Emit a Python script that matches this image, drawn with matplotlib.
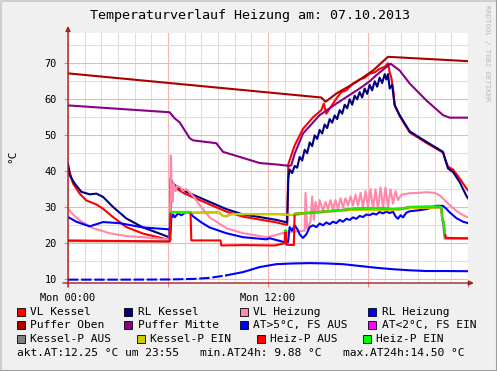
import matplotlib
matplotlib.use("Agg")
import matplotlib.pyplot as plt
import numpy as np
from matplotlib.patches import Rectangle
from matplotlib.ticker import MultipleLocator

plt.rcParams['font.family'] = 'DejaVu Sans Mono'

# Daten (Stunden seit 00:00, Temperatur in °C)
vl_kessel_h = [0, 0.3, 0.7, 1.1, 1.7, 2.1, 2.7, 3.5, 4.5, 5.5, 6.0, 6.1, 6.18, 6.3, 7.0, 7.5, 8.5, 9.5, 10.5, 11.5, 12.5, 13.15,
               13.22, 13.4, 13.6, 14.1, 14.7, 15.2, 15.35, 15.5, 16.1, 16.4, 16.7, 17.1, 17.5, 17.8, 18.1, 18.4, 18.7, 19.0, 19.2,
               19.3, 19.4, 19.5, 19.6, 19.9, 20.5, 21.5, 22.5, 22.7, 22.8, 23.1, 23.5, 23.9, 24]
vl_kessel_t = [41.5, 36.6, 33.8, 31.9, 30.8, 29.6, 27.3, 24.5, 22.7, 21.6, 21.0, 20.8, 37.0, 35.8, 33.8, 32.8, 30.8, 28.8, 27.4, 26.6, 25.8, 25.1,
               42.0, 44.5, 47.2, 51.8, 55.0, 57.0, 58.8, 56.0, 60.2, 62.0, 62.5, 64.4, 65.5, 66.0, 67.1, 67.5, 68.5, 69.0, 70.0,
               67.5, 66.0, 63.0, 58.5, 55.3, 50.8, 47.9, 45.2, 42.5, 41.3, 40.5, 38.0, 35.3, 34.7]

rl_kessel_h = [0, 0.1, 0.4, 0.8, 1.3, 1.7, 2.1, 2.7, 3.5, 4.5, 5.5, 6.0, 6.1, 6.15, 6.3, 7.0, 7.5, 8.5, 9.5, 10.5, 11.5, 12.5, 13.15,
               13.22, 13.3, 13.45, 13.6, 13.75, 13.9, 14.05, 14.2, 14.35, 14.5, 14.65, 14.8, 14.95, 15.1, 15.25, 15.4, 15.55, 15.7,
               15.85, 16.0, 16.15, 16.3, 16.45, 16.6, 16.75, 16.9, 17.05, 17.2, 17.35, 17.5, 17.65, 17.8, 17.95, 18.1, 18.25, 18.4,
               18.55, 18.7, 18.85, 19.0, 19.1, 19.2, 19.3, 19.45, 19.6, 19.9, 20.5, 21.5, 22.5, 22.65, 22.8, 23.1, 23.5, 23.9, 24]
rl_kessel_t = [42.1, 38.9, 36.6, 34.3, 33.6, 33.8, 32.9, 30.1, 26.9, 24.4, 22.7, 21.8, 21.6, 38.0, 36.5, 34.5, 33.5, 31.5, 29.5, 28.0, 27.3, 26.5, 25.8,
               38.0, 40.5, 39.5, 41.5, 41.0, 44.0, 43.0, 46.0, 45.0, 48.0, 47.0, 50.0, 49.0, 51.5, 50.5, 53.0, 52.0, 54.5,
               53.5, 55.5, 54.5, 57.0, 56.0, 58.5, 57.5, 60.0, 58.5, 61.0, 60.0, 62.0, 60.5, 63.0, 61.5, 64.0, 62.5, 65.0,
               63.5, 66.0, 64.5, 67.0, 65.5, 67.0, 63.0, 64.0, 58.3, 55.6, 51.1, 48.2, 45.4, 43.0, 40.8, 39.8, 37.0, 33.2, 32.5]

vl_heizung_h = [0, 0.3, 0.7, 1.5, 2.5, 3.5, 4.5, 5.9, 6.1, 6.17, 6.22, 6.27, 6.35, 6.45, 6.55, 6.75, 6.9, 7.1, 7.5, 7.9, 8.5, 9.5,
                10.5, 11.9, 12.4, 13.0, 14.2, 14.25, 14.35, 14.55, 14.65, 14.75, 14.85, 15.0, 15.1, 15.3, 15.45, 15.6, 15.75, 15.9,
                16.05, 16.2, 16.35, 16.5, 16.65, 16.8, 16.95, 17.1, 17.25, 17.4, 17.55, 17.7, 17.85, 18.0, 18.15, 18.3, 18.45, 18.6,
                18.75, 18.9, 19.05, 19.2, 19.35, 19.5, 19.65, 19.8, 20.0, 20.5, 21.0, 21.5, 22.0, 22.3, 22.6, 22.9, 23.3, 23.7, 24]
vl_heizung_t = [29.7, 28.0, 26.4, 24.2, 22.8, 22.0, 21.7, 21.1, 21.0, 44.4, 36.0, 31.5, 36.7, 34.5, 36.0, 35.5, 34.5, 35.0, 33.2, 30.6, 27.2, 24.2,
                22.8, 21.7, 22.2, 23.0, 23.5, 34.0, 24.0, 26.0, 33.0, 26.5, 31.5, 28.5, 32.0, 29.0, 31.5, 29.5, 32.0, 29.5,
                32.0, 29.5, 32.5, 30.0, 32.5, 30.5, 33.0, 30.5, 33.5, 30.5, 34.0, 30.0, 34.5, 30.0, 35.0, 29.5, 35.0, 29.5,
                35.5, 30.0, 35.5, 30.0, 35.0, 31.0, 34.5, 32.0, 33.5, 33.9, 34.0, 34.2, 34.0, 33.3, 32.0, 30.6, 29.0, 27.8, 27.2]

rl_heizung_h = [0, 0.5, 1.3, 2.1, 3.1, 4.5, 6.0, 6.1, 6.13, 6.2, 6.3, 6.4, 6.6, 6.8, 7.0, 7.3, 7.5, 8.0, 8.5, 9.5, 10.5, 11.9, 12.1,
                13.0, 13.2, 13.3, 13.45, 13.6, 13.75, 13.9, 14.1, 14.3, 14.5, 14.7, 14.9, 15.1, 15.3, 15.5, 15.7, 15.9, 16.1, 16.3,
                16.5, 16.7, 16.9, 17.1, 17.3, 17.5, 17.7, 17.9, 18.1, 18.3, 18.5, 18.7, 18.9, 19.1, 19.3, 19.5, 19.65, 19.8, 19.95,
                20.1, 20.3, 20.5, 21.1, 21.6, 22.1, 22.5, 22.7, 22.9, 23.3, 23.7, 24]
rl_heizung_t = [27.3, 26.0, 24.7, 25.9, 25.6, 24.4, 23.9, 23.9, 20.8, 27.0, 28.0, 27.2, 28.3, 27.8, 28.4, 28.6, 27.5, 25.8, 24.4, 22.8, 21.7, 21.1, 21.4,
                20.3, 20.3, 24.5, 23.5, 25.0, 24.0, 22.5, 21.5, 22.5, 24.5, 25.0, 24.5, 25.5, 25.0, 25.8, 25.3, 26.0, 25.6, 26.5,
                26.0, 26.8, 26.5, 27.2, 26.8, 27.6, 27.3, 28.0, 27.8, 28.3, 28.0, 28.7, 28.3, 28.8, 28.4, 28.8, 27.5, 26.8, 27.8,
                27.2, 28.5, 28.9, 29.2, 29.6, 30.4, 30.4, 29.6, 28.6, 27.0, 26.0, 25.6]

puffer_oben_h = [0, 15.2, 15.45, 16.1, 17.3, 18.3, 19.2, 24]
puffer_oben_t = [67.2, 60.5, 59.3, 61.6, 64.8, 68.0, 71.8, 70.6]

puffer_mitte_h = [0, 6.1, 6.4, 6.7, 7.0, 7.3, 7.5, 8.9, 9.3, 10.3, 11.5, 12.5, 13.3, 13.4, 13.6, 14.1, 15.1, 16.1, 17.1, 17.5,
                  18.1, 18.5, 19.35, 19.9, 20.5, 21.5, 22.5, 22.9, 24]
puffer_mitte_t = [58.3, 56.4, 54.7, 53.6, 51.4, 49.2, 48.6, 47.8, 45.4, 44.0, 42.3, 41.9, 41.5, 41.7, 44.9, 50.5, 55.6, 58.8, 61.8, 63.0,
                  65.0, 66.7, 69.9, 68.0, 64.4, 59.7, 55.6, 54.9, 54.9]

aussen_h = [0, 3, 6, 7.5, 8.5, 9.5, 10.5, 11.5, 12.5, 13.5, 14.5, 15.5, 16.5, 17.5, 18.5, 19.5, 20.5, 21.5, 22.5, 24]
aussen_t = [9.9, 9.9, 9.95, 10.1, 10.4, 11.1, 12.0, 13.4, 14.2, 14.4, 14.5, 14.4, 14.2, 13.7, 13.2, 12.8, 12.5, 12.3, 12.3, 12.25]

kessel_p_h = [0, 6.1, 6.15, 7.4, 9.05, 9.3, 9.5, 9.8, 12.7, 13.6, 14.0, 17.0, 19.5, 20.5, 22.3, 22.4, 22.6, 24]
kessel_p_t = [20.6, 20.5, 28.7, 28.5, 28.6, 27.6, 27.5, 28.1, 28.1, 27.8, 28.2, 29.3, 29.2, 29.8, 29.9, 29.9, 21.3, 21.3]
kessel_p_ein = [0, 0, 1, 1, 1, 1, 1, 1, 1, 1, 1, 1, 1, 1, 1, 1, 0, 0]

heiz_p_h = [0, 6.1, 6.15, 7.35, 7.4, 9.15, 9.2, 10.5, 12.4, 12.9, 13.0, 13.02, 13.08, 13.1, 13.55, 13.6, 14.5, 15.5, 16.5, 17.1,
            18.5, 19.5, 20.0, 20.5, 22.3, 22.4, 22.45, 22.55, 22.6, 22.7, 24]
heiz_p_t = [20.8, 20.5, 28.7, 28.7, 20.8, 20.8, 19.4, 19.5, 19.4, 19.9, 20.0, 23.5, 23.5, 19.6, 19.5, 28.2, 28.5, 28.9, 29.3, 29.6,
            29.8, 29.5, 29.6, 30.1, 30.2, 30.0, 26.5, 26.0, 22.8, 21.5, 21.4]
heiz_p_ein = [0, 0, 1, 1, 0, 0, 0, 0, 0, 0, 0, 1, 1, 0, 0, 1, 1, 1, 1, 1, 1, 1, 1, 1, 1, 1, 1, 1, 1, 0, 0]

akt_at = 12.25
akt_zeit = "23:55"
min_at = 9.88
max_at = 14.50

W, H = 497, 371
fig = plt.figure(figsize=(W / 100, H / 100), dpi=100)
fig.patch.set_facecolor('#F0F0F0')

# Plotbereich in Pixeln: x 68..468, y 33..283
ax = fig.add_axes([68 / W, 1 - 283 / H, 400 / W, 250 / H])
ax.set_facecolor('white')
ax.set_xlim(0, 24)
ax.set_ylim(10 + (279.3 - 283) / 3.6, 10 + (279.3 - 33) / 3.6)
for s in ax.spines.values():
    s.set_visible(False)

ax.set_xticks([0, 6, 12, 18, 24])
ax.set_xticklabels(['Mon 00:00', '', 'Mon 12:00', '', ''])
ax.set_yticks([10, 20, 30, 40, 50, 60, 70])
ax.xaxis.set_minor_locator(MultipleLocator(1))
ax.yaxis.set_minor_locator(MultipleLocator(5))
ax.grid(which='minor', color='#DEDEDE', lw=0.8)
ax.grid(which='major', color='#F4B4B4', lw=0.8)
ax.set_axisbelow(True)
ax.tick_params(which='major', length=3, color='#F08080', labelsize=7.4, pad=4)
ax.tick_params(which='minor', length=0)
ax.tick_params(axis='y', pad=5)

lw = 1.5
ax.plot(vl_kessel_h, vl_kessel_t, color='#FF0000', lw=lw)
ax.plot(rl_kessel_h, rl_kessel_t, color='#000080', lw=lw)
ax.plot(vl_heizung_h, vl_heizung_t, color='#FF88AA', lw=lw)
ax.plot(rl_heizung_h, rl_heizung_t, color='#0000FF', lw=lw)
ax.plot(puffer_oben_h, puffer_oben_t, color='#AA0000', lw=lw)
ax.plot(puffer_mitte_h, puffer_mitte_t, color='#880088', lw=lw)

# Aussentemperatur, am Anfang gestrichelt
ah = np.array(aussen_h)
at = np.array(aussen_t)
ax.plot(ah[ah <= 9.5], at[ah <= 9.5], color='#0000FF', lw=lw, ls=(0, (5, 1.3)))
ax.plot(ah[ah >= 9.5], at[ah >= 9.5], color='#0000FF', lw=lw)


def status_linie(h, t, ein, farbe_aus, farbe_ein):
    t = np.array(t, dtype=float)
    ein = np.array(ein, dtype=bool)
    ax.plot(h, t, color=farbe_aus, lw=lw)
    ax.plot(h, np.where(ein, t, np.nan), color=farbe_ein, lw=lw)


status_linie(kessel_p_h, kessel_p_t, kessel_p_ein, '#808080', '#CCCC00')
status_linie(heiz_p_h, heiz_p_t, heiz_p_ein, '#FF0000', '#22EE00')

# Achsen mit Pfeilen
y0, y1 = ax.get_ylim()
achse = dict(arrowstyle='-|>', color='#A02020', lw=1, mutation_scale=7, shrinkA=0, shrinkB=0)
ax.annotate('', xy=(0, 10 + (279.3 - 26) / 3.6), xytext=(0, y0 - 1.1), arrowprops=achse, annotation_clip=False)
ax.annotate('', xy=(24.35, y0), xytext=(-0.3, y0), arrowprops=achse, annotation_clip=False)

# Titel und Beschriftungen
fig.text(250 / W, 1 - 16 / H, 'Temperaturverlauf Heizung am: 07.10.2013', ha='center', va='center', fontsize=9.6)
fig.text(12 / W, 1 - 156 / H, '°C', rotation=90, ha='center', va='center', fontsize=8)
fig.text(487 / W, 1 - 5 / H, 'RRDTOOL / TOBI OETIKER', rotation=270, ha='center', va='top', fontsize=5.2, color='#B8B8B8')

# Legende
legende = [
    (16.7, 311.7, '#FF0000', 'VL Kessel'), (124.3, 311.7, '#000080', 'RL Kessel'),
    (240, 311.7, '#FF88AA', 'VL Heizung'), (368, 311.7, '#0000FF', 'RL Heizung'),
    (16.7, 325, '#AA0000', 'Puffer Oben'), (124.3, 325, '#880088', 'Puffer Mitte'),
    (240, 325, '#0000FF', 'AT>5°C, FS AUS'), (368, 325, '#FF00FF', 'AT<2°C, FS EIN'),
    (16.7, 339, '#808080', 'Kessel-P AUS'), (136.7, 339, '#CCCC00', 'Kessel-P EIN'),
    (256.7, 339, '#FF0000', 'Heiz-P AUS'), (363, 339, '#00FF00', 'Heiz-P EIN'),
]
for x, y, farbe, name in legende:
    fig.patches.append(Rectangle((x / W, 1 - (y + 4) / H), 8 / W, 8 / H, facecolor=farbe,
                                 edgecolor='black', lw=0.6, transform=fig.transFigure, figure=fig))
    fig.text((x + 13.5) / W, 1 - y / H, name, ha='left', va='center', fontsize=8.1)

fig.text(16.7 / W, 1 - 352.7 / H, f'akt.AT:{akt_at:.2f} °C um {akt_zeit}', ha='left', va='center', fontsize=8.1)
fig.text(200 / W, 1 - 352.7 / H, f'min.AT24h:{min_at:5.2f} °C', ha='left', va='center', fontsize=8.1)
fig.text(342.7 / W, 1 - 352.7 / H, f'max.AT24h:{max_at:5.2f} °C', ha='left', va='center', fontsize=8.1)

# Rahmen
fig.add_artist(plt.Line2D([0.5 / W, 0.5 / W], [0, 1], color='#CFCFCF', lw=1.5, transform=fig.transFigure))
fig.add_artist(plt.Line2D([0, 1], [1 - 0.5 / H, 1 - 0.5 / H], color='#CFCFCF', lw=1.5, transform=fig.transFigure))
fig.add_artist(plt.Line2D([1 - 0.5 / W, 1 - 0.5 / W], [0, 1], color='#9E9E9E', lw=1.5, transform=fig.transFigure))
fig.add_artist(plt.Line2D([0, 1], [0.5 / H, 0.5 / H], color='#9E9E9E', lw=1.5, transform=fig.transFigure))

fig.savefig('out.png', dpi=100, facecolor=fig.get_facecolor())
